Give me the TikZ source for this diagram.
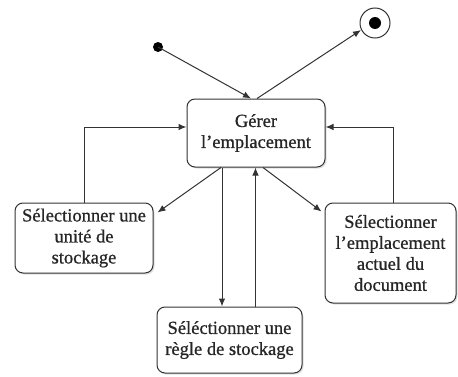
\documentclass[tikz,border=0pt]{standalone}
\usepackage{fontspec}
\setmainfont{Liberation Serif}
\newfontfamily\etatfont{Liberation Serif}[FakeBold=0.8]
\usetikzlibrary{shadows,arrows.meta}

\tikzset{
    etat/.style={draw=black!80, rounded corners=8pt, fill=white, align=center,
        inner sep=0pt, text=black!85, font=\etatfont\fontsize{18.5}{21}\selectfont,
        drop shadow={opacity=0.25, shadow xshift=1.5pt, shadow yshift=-1.5pt}},
    fleche/.style={-{Latex[length=8pt,width=6.5pt]}, draw=black!80}
}

\begin{document}
\begin{tikzpicture}[x=1pt, y=1pt, line width=1pt]
    \useasboundingbox (0,0) rectangle (458,376);

    \node[etat, minimum width=138, minimum height=68] (gerer) at (256,243) {Gérer\\l’emplacement};
    \node[etat, minimum width=138, minimum height=70] (unite) at (84,138) {Sélectionner une\\unité de\\stockage};
    \node[etat, minimum width=131, minimum height=100] (actuel) at (390.5,123) {Sélectionner\\l’emplacement\\actuel du\\document};
    \node[etat, minimum width=145, minimum height=66] (regle) at (229.5,36) {Séléctionner une\\règle de stockage};

    \fill[black] (158,329) circle [radius=5] coordinate (init);
    \draw[black!80] (375,353) circle [radius=15];
    \fill[black] (375,353) circle [radius=6];
    \coordinate (final) at (361,346);

    \draw[fleche] (init) -- ([xshift=-5]gerer.north);
    \draw[fleche] ([xshift=1]gerer.north) -- (final);

    \draw[fleche] (unite.north) |- ([yshift=6]gerer.west);
    \draw[fleche] ([xshift=2.5]actuel.north) |- ([yshift=6]gerer.east);

    \draw[fleche] ([xshift=-35]gerer.south) -- ([xshift=4,yshift=-10]unite.north east);
    \draw[fleche] ([xshift=-34]gerer.south) -- ([xshift=-34]gerer.south |- regle.north);
    \draw[fleche] ([xshift=26]regle.north) -- ([xshift=26]regle.north |- gerer.south);
    \draw[fleche] ([xshift=7]gerer.south) -- ([xshift=-3,yshift=-9]actuel.north west);

\end{tikzpicture}
\end{document}
